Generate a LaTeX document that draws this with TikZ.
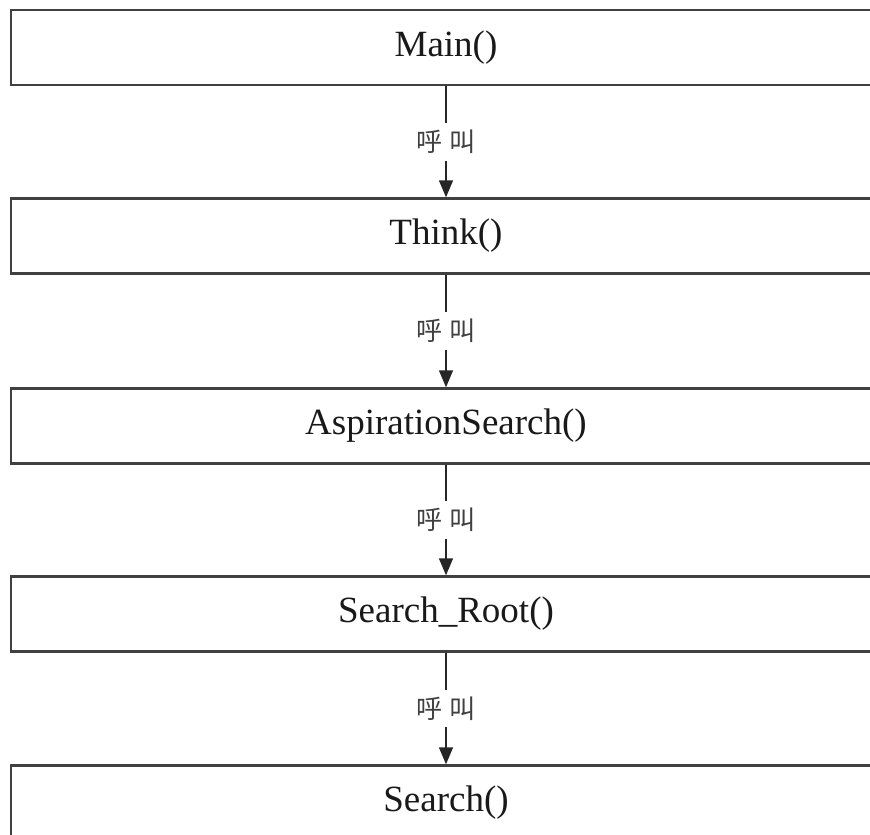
\documentclass[tikz,border=0pt]{standalone}
\usepackage{fontspec}
\setmainfont{Liberation Serif}
\newfontfamily\cjk{Noto Sans CJK TC}
\usetikzlibrary{arrows.meta}

\tikzset{
  funcbox/.style={draw=black!75, line width=2.4pt, fill=white,
    minimum width=870pt, minimum height=75pt, inner sep=0pt,
    font=\fontsize{37}{40}\selectfont, text=black!90},
  callarrow/.style={draw=black!85, line width=1.4pt,
    -{Triangle[width=14pt,length=17pt]}},
  calllabel/.style={fill=white, inner xsep=2pt, inner ysep=7pt,
    font=\cjk\fontsize{26}{28}\selectfont, text=black!75}
}

\begin{document}
\begin{tikzpicture}[x=1pt, y=-1pt]
  \useasboundingbox (0,0) rectangle (870,835);
  \clip (0,0) rectangle (870,835);

  % call chain, one box per function
  \node[funcbox] (main)   at (446,47.5) {Main()};
  \node[funcbox] (think)  at (446,236)  {Think()};
  \node[funcbox] (aspir)  at (446,426)  {AspirationSearch()};
  \node[funcbox] (sroot)  at (446,614)  {Search\_Root()};
  \node[funcbox] (search) at (446,803)  {Search()};

  % "call" arrows between consecutive functions
  \foreach \a/\b in {main/think, think/aspir, aspir/sroot, sroot/search}{
    \draw[callarrow] (\a.south) -- node[calllabel] {呼\hspace{7pt}叫} (\b.north);
  }
\end{tikzpicture}
\end{document}
